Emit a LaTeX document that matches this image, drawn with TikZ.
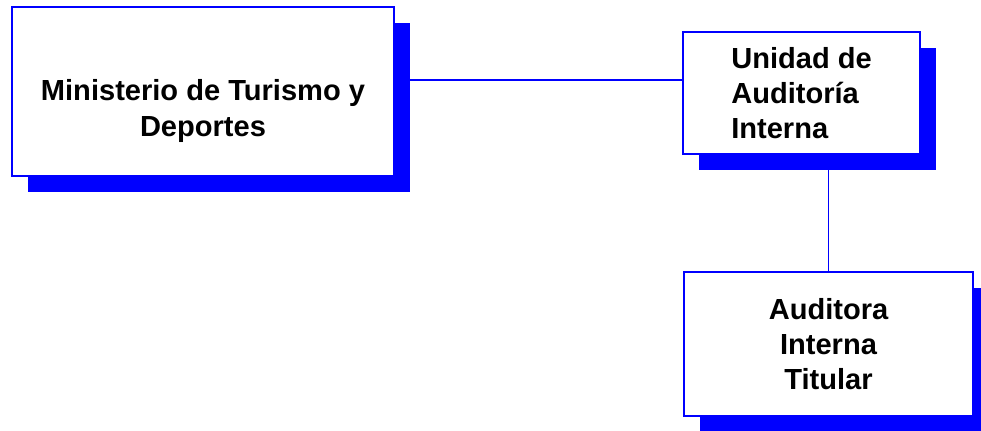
\documentclass[tikz,border=0pt]{standalone}
\usepackage{fontspec}
\setmainfont{Liberation Sans}
\usetikzlibrary{shadows, positioning}
\definecolor{orgblue}{RGB}{0,0,255}

\begin{document}
\begin{tikzpicture}[
    x=0.75pt, y=-0.75pt,
    orgbox/.style={rectangle, draw=orgblue, line width=1.3pt, fill=white, align=center,
        font=\bfseries\fontsize{21.8}{26.5}\selectfont,
        drop shadow={shadow xshift=12pt, shadow yshift=-12pt, fill=orgblue, opacity=1}},
    link/.style={draw=orgblue, line width=0.9pt}
]
\useasboundingbox (0,0) rectangle (981,431);

% Ministry
\node[orgbox, minimum width=286.5pt, minimum height=126.75pt] (mintur) at (203,91.5) {\strut\\Ministerio de Turismo y\\Deportes};

% Internal audit unit
\node[orgbox, align=left, minimum width=177.75pt, minimum height=91.5pt] (unidad) at (801.5,93) {Unidad de\\Auditoría\\Interna};

% Head auditor
\node[orgbox, minimum width=216.75pt, minimum height=108pt] (auditora) at (828.5,344) {Auditora\\Interna\\Titular};

% Connections
\coordinate (tap) at ([yshift=8.6pt]mintur.east);
\draw[link] (tap) -- (tap -| unidad.west);
\draw[link] (unidad.south -| auditora.north) -- (auditora.north);

\end{tikzpicture}
\end{document}
